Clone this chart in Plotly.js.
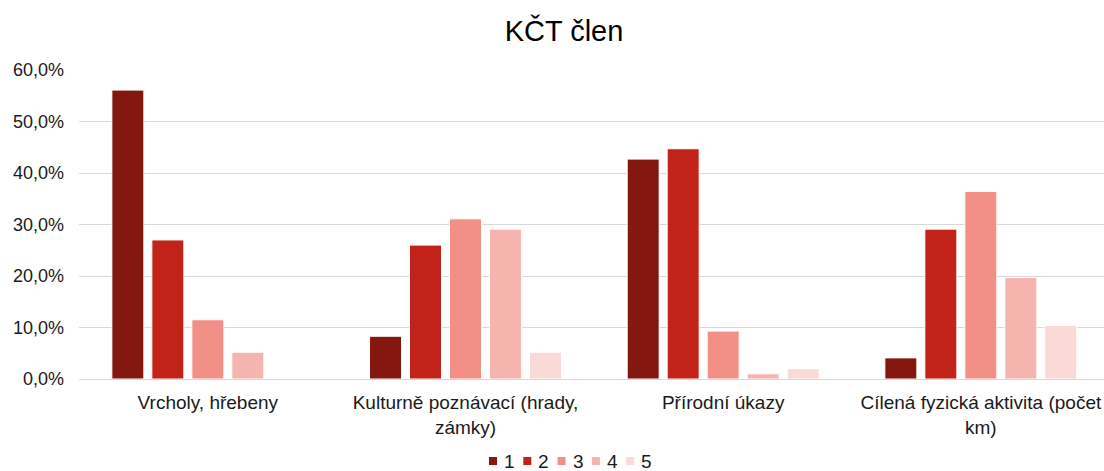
<!DOCTYPE html>
<html>
<head>
<meta charset="utf-8">
<script src="https://cdn.plot.ly/plotly-3.0.1.min.js"></script>
<style>html,body{margin:0;padding:0;background:#fff;}#chart{width:1104px;height:471px;}</style>
</head>
<body>
<div id="chart"></div>
<script>
const categories = ["Vrcholy, hřebeny", "Kulturně poznávací (hrady,<br>zámky)", "Přírodní úkazy", "Cílená fyzická aktivita (počet<br>km)"];
const seriesNames = ["1", "2", "3", "4", "5"];
const s1 = [0.561, 0.083, 0.427, 0.041];
const s2 = [0.270, 0.260, 0.447, 0.291];
const s3 = [0.115, 0.311, 0.093, 0.364];
const s4 = [0.052, 0.291, 0.010, 0.197];
const s5 = [0.000, 0.052, 0.020, 0.104];
const colors = ["#841811", "#C22318", "#F28F87", "#F6B4AF", "#FAD9D6"];

const allSeries = [s1, s2, s3, s4, s5];
const traces = allSeries.map((vals, i) => ({
  type: "bar",
  name: seriesNames[i],
  x: categories,
  y: vals,
  marker: {color: colors[i], line: {color: "#ffffff", width: 1}},
  hoverinfo: "skip",
  showlegend: false
}));

// plot-area geometry (pixels) used to place the compact legend
const W = 1104, H = 471, L = 79, R = 0, T = 70, B = 92;
const pw = W - L - R, ph = H - T - B;
const px = x => (x - L) / pw;
const py = y => (H - B - y) / ph;

const shapes = [];
const annotations = [];
const legStart = 489, legPitch = 34.3, legY = 461, sq = 8;
seriesNames.forEach((name, i) => {
  const x0 = legStart + i * legPitch;
  shapes.push({type: "rect", xref: "paper", yref: "paper",
    x0: px(x0), x1: px(x0 + sq), y0: py(legY + sq / 2), y1: py(legY - sq / 2),
    fillcolor: colors[i], line: {width: 0}});
  annotations.push({xref: "paper", yref: "paper", x: px(x0 + 13), y: py(legY),
    xanchor: "left", yanchor: "middle", text: name, showarrow: false,
    font: {size: 19, color: "#1a1a1a"}});
});

const layout = {
  width: W, height: H,
  paper_bgcolor: "#ffffff", plot_bgcolor: "#ffffff",
  separators: ", ",
  font: {family: "Liberation Sans, Arial, sans-serif", size: 19, color: "#1a1a1a"},
  title: {text: "KČT člen", font: {size: 29, color: "#000000"}, x: 564/1104, xref: "container", xanchor: "center", y: 1 - 31/471, yref: "container", yanchor: "middle"},
  margin: {l: L, r: R, t: T, b: B},
  barmode: "group",
  bargap: 0.224,
  bargroupgap: 0.2,
  showlegend: false,
  shapes: shapes,
  annotations: annotations,
  xaxis: {
    type: "category",
    range: [-0.5, 3.478],
    showgrid: false,
    showline: true, linecolor: "#d9d9d9", linewidth: 1,
    ticks: "", ticklabelstandoff: 6,
    tickfont: {size: 19, color: "#1a1a1a"},
    zeroline: false, fixedrange: true
  },
  yaxis: {
    range: [0, 0.6],
    dtick: 0.1, tick0: 0,
    tickformat: ".1%",
    showgrid: true, gridcolor: "#d9d9d9", gridwidth: 1,
    zeroline: false, showline: false,
    ticks: "", ticklabelstandoff: 14,
    tickfont: {size: 18, color: "#1a1a1a"},
    fixedrange: true
  }
};

Plotly.newPlot("chart", traces, layout, {displayModeBar: false, staticPlot: true});
</script>
</body>
</html>
